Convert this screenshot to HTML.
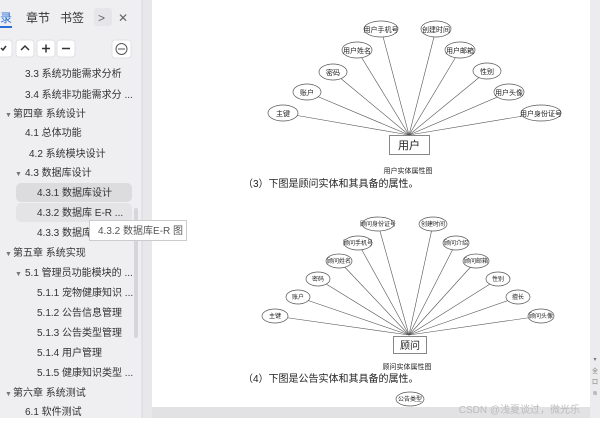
<!DOCTYPE html>
<html><head><meta charset="utf-8"><style>
body{margin:0;width:600px;height:418px;overflow:hidden;background:#fff;font-family:"Liberation Sans","Noto Sans CJK SC",sans-serif}
</style></head><body>
<svg width="600" height="418" viewBox="0 0 600 418" xmlns="http://www.w3.org/2000/svg" font-family="Liberation Sans, Noto Sans CJK SC, sans-serif">
<rect x="0" y="0" width="142" height="418" fill="#efeff2"/>
<rect x="142" y="0" width="10" height="418" fill="#e8e8eb"/>
<line x1="142" y1="0" x2="142" y2="418" stroke="#d8d8dc"/>
<rect x="590" y="0" width="10" height="418" fill="#ececee"/>
<!-- header tabs -->
<g font-size="12" fill="#333">
<text x="-12" y="22" fill="#2a6fd6">目录</text>
<rect x="0" y="26" width="12" height="2" fill="#2a6fd6"/>
<text x="26" y="22">章节</text>
<text x="60" y="22">书签</text>
<rect x="94" y="8" width="18" height="18" rx="3" fill="#e6e6ea"/>
<text x="98" y="22" fill="#666">&gt;</text>
<text x="118" y="22" fill="#666">✕</text>
</g>
<g fill="#fff" stroke="#e0e0e4">
<rect x="-6" y="40" width="18" height="17" rx="3"/>
<rect x="16" y="40" width="18" height="17" rx="3"/>
<rect x="37" y="40" width="18" height="17" rx="3"/>
<rect x="57" y="40" width="18" height="17" rx="3"/>
<rect x="112" y="40" width="19" height="18" rx="3"/>
</g>
<g stroke="#333" stroke-width="1.5" fill="none">
<polyline points="1,48 3,50 6,46"/>
<polyline points="21,50 25,46 29,50"/>
<line x1="42" y1="48.5" x2="50" y2="48.5"/><line x1="46" y1="44.5" x2="46" y2="52.5"/>
<line x1="62" y1="48.5" x2="70" y2="48.5"/>
</g>
<circle cx="121.5" cy="49" r="5.5" fill="none" stroke="#555"/>
<line x1="118" y1="49" x2="125" y2="49" stroke="#555"/>
<!-- highlighted -->
<rect x="16" y="183" width="116" height="19" rx="5" fill="#dcdcdf"/>
<rect x="16" y="203" width="116" height="19" rx="5" fill="#e4e4e7"/>
<rect x="134" y="208" width="4" height="130" rx="2" fill="#d6d6da"/>
<g font-size="10" fill="#333">
<text x="25" y="77">3.3 系统功能需求分析</text>
<text x="25" y="98">3.4 系统非功能需求分 ...</text>
<text x="5" y="117" font-size="7" fill="#777">▼</text><text x="13" y="117">第四章 系统设计</text>
<text x="25" y="136">4.1 总体功能</text>
<text x="29" y="157">4.2 系统模块设计</text>
<text x="15" y="176" font-size="7" fill="#777">▼</text><text x="25" y="176">4.3 数据库设计</text>
<text x="37" y="196">4.3.1 数据库设计</text>
<text x="37" y="216">4.3.2 数据库 E-R ...</text>
<text x="37" y="236">4.3.3 数据库</text>
<text x="5" y="256" font-size="7" fill="#777">▼</text><text x="13" y="256">第五章 系统实现</text>
<text x="15" y="276" font-size="7" fill="#777">▼</text><text x="25" y="276">5.1 管理员功能模块的 ...</text>
<text x="37" y="296">5.1.1 宠物健康知识 ...</text>
<text x="37" y="316">5.1.2 公告信息管理</text>
<text x="37" y="336">5.1.3 公告类型管理</text>
<text x="37" y="356">5.1.4 用户管理</text>
<text x="37" y="376">5.1.5 健康知识类型 ...</text>
<text x="5" y="396" font-size="7" fill="#777">▼</text><text x="13" y="396">第六章 系统测试</text>
<text x="25" y="415">6.1 软件测试</text>
</g>
<rect x="89.5" y="220.5" width="97" height="20" fill="#fff" stroke="#ccc"/>
<text x="98" y="234" font-size="10" fill="#555">4.3.2 数据库E-R 图</text>
<!-- diagram 1 -->
<g stroke="#555" stroke-width="0.6">
<line x1="409" y1="135" x2="283" y2="113"/><line x1="409" y1="135" x2="307" y2="92"/>
<line x1="409" y1="135" x2="333" y2="72"/><line x1="409" y1="135" x2="357" y2="50"/>
<line x1="409" y1="135" x2="381" y2="29"/><line x1="409" y1="135" x2="436" y2="29"/>
<line x1="409" y1="135" x2="460" y2="50"/><line x1="409" y1="135" x2="487" y2="71"/>
<line x1="409" y1="135" x2="509" y2="92"/><line x1="409" y1="135" x2="541" y2="113"/>
</g>
<g fill="#fff" stroke="#555" stroke-width="0.7">
<ellipse cx="283" cy="113" rx="15" ry="8"/><ellipse cx="307" cy="92" rx="14" ry="8"/>
<ellipse cx="333" cy="72" rx="14" ry="8"/><ellipse cx="357" cy="50" rx="15" ry="8"/>
<ellipse cx="381" cy="29" rx="17" ry="8"/><ellipse cx="436" cy="29" rx="15" ry="8"/>
<ellipse cx="460" cy="50" rx="15" ry="8"/><ellipse cx="487" cy="71" rx="14" ry="8"/>
<ellipse cx="509" cy="92" rx="15" ry="8"/><ellipse cx="541" cy="113" rx="20" ry="8"/>
<rect x="389.5" y="135.5" width="40" height="19"/>
</g>
<g font-size="7" fill="#222" text-anchor="middle">
<text x="283" y="116">主键</text><text x="307" y="95">账户</text><text x="333" y="75">密码</text>
<text x="357" y="53">用户姓名</text><text x="381" y="32">用户手机号</text><text x="436" y="32">创建时间</text>
<text x="460" y="53">用户邮箱</text><text x="487" y="74">性别</text><text x="509" y="95">用户头像</text>
<text x="541" y="116">用户身份证号</text>
<text x="409" y="149" font-size="11">用户</text>
<text x="408" y="173" font-size="7">用户实体属性图</text>
</g>
<text x="243" y="187" font-size="10" fill="#222">（3）下图是顾问实体和其具备的属性。</text>
<!-- diagram 2 -->
<g stroke="#555" stroke-width="0.6">
<line x1="409" y1="335" x2="275" y2="316"/><line x1="409" y1="335" x2="298" y2="297"/>
<line x1="409" y1="335" x2="318" y2="279"/><line x1="409" y1="335" x2="339" y2="261"/>
<line x1="409" y1="335" x2="358" y2="243"/><line x1="409" y1="335" x2="378" y2="224"/>
<line x1="409" y1="335" x2="433" y2="224"/><line x1="409" y1="335" x2="456" y2="243"/>
<line x1="409" y1="335" x2="476" y2="261"/><line x1="409" y1="335" x2="498" y2="279"/>
<line x1="409" y1="335" x2="518" y2="297"/><line x1="409" y1="335" x2="541" y2="316"/>
</g>
<g fill="#fff" stroke="#555" stroke-width="0.7">
<ellipse cx="275" cy="316" rx="13" ry="7"/><ellipse cx="298" cy="297" rx="12" ry="7"/>
<ellipse cx="318" cy="279" rx="12" ry="7"/><ellipse cx="339" cy="261" rx="13" ry="7"/>
<ellipse cx="358" cy="243" rx="14" ry="7"/><ellipse cx="378" cy="224" rx="16" ry="7"/>
<ellipse cx="433" cy="224" rx="14" ry="7"/><ellipse cx="456" cy="243" rx="13" ry="7"/>
<ellipse cx="476" cy="261" rx="13" ry="7"/><ellipse cx="498" cy="279" rx="12" ry="7"/>
<ellipse cx="518" cy="297" rx="12" ry="7"/><ellipse cx="541" cy="316" rx="13" ry="7"/>
<rect x="393.5" y="336.5" width="33" height="17"/>
<ellipse cx="410" cy="399" rx="14" ry="7"/>
</g>
<g font-size="6" fill="#222" text-anchor="middle">
<text x="275" y="318">主键</text><text x="298" y="299">账户</text><text x="318" y="281">密码</text>
<text x="339" y="263">顾问姓名</text><text x="358" y="245">顾问手机号</text><text x="378" y="226">顾问身份证号</text>
<text x="433" y="226">创建时间</text><text x="456" y="245">顾问介绍</text><text x="476" y="263">顾问邮箱</text>
<text x="498" y="281">性别</text><text x="518" y="299">擅长</text><text x="541" y="318">顾问头像</text>
<text x="410" y="401">公告类型</text>
<text x="410" y="349" font-size="10">顾问</text>
<text x="407" y="369" font-size="7">顾问实体属性图</text>
</g>
<text x="243" y="382" font-size="10" fill="#222">（4）下图是公告实体和其具备的属性。</text>
<rect x="152" y="407" width="438" height="11" fill="#e2e2e4"/>
<text x="580" y="413" font-size="10" fill="#bbb" text-anchor="end">CSDN @浅夏谈过，微光乐</text>
<g font-size="6" fill="#777" text-anchor="middle">
<text x="595" y="361">▾</text><text x="595" y="373">全</text><text x="595" y="384">口</text><text x="595" y="395">≋</text>
</g>
</svg>
</body></html>
